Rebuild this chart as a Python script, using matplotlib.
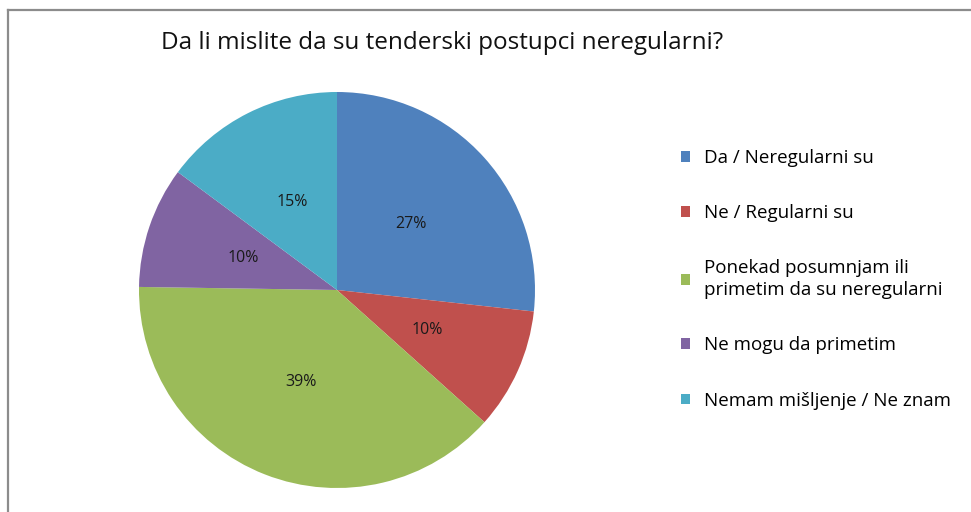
import matplotlib.pyplot as plt
from matplotlib.patches import Patch
from matplotlib.lines import Line2D

plt.rcParams['font.family'] = ['Open Sans', 'DejaVu Sans']

naslov = 'Da li mislite da su tenderski postupci neregularni?'
odgovori = ['Da / Neregularni su', 'Ne / Regularni su',
            'Ponekad posumnjam ili\nprimetim da su neregularni',
            'Ne mogu da primetim', 'Nemam mišljenje / Ne znam']
procenti = [27, 10, 39, 10, 15]
boje = ['#4F81BD', '#C0504D', '#9BBB59', '#8064A2', '#4BACC6']

W, H = 971, 512
fig = plt.figure(figsize=(W / 100, H / 100), dpi=100)

# okvir (gornja i leva ivica)
fig.add_artist(Line2D([8 / W, 1], [1 - 10 / H, 1 - 10 / H], color='#8c8c8c', lw=1.6))
fig.add_artist(Line2D([8 / W, 8 / W], [0, 1 - 10 / H], color='#8c8c8c', lw=1.6))

cx, cy, r = 337, 290, 198
ax = fig.add_axes([(cx - r) / W, (H - cy - r) / H, 2 * r / W, 2 * r / H])
ax.pie(procenti, colors=boje, startangle=90, counterclock=False,
       autopct=lambda p: '%d%%' % round(p * sum(procenti) / 100),
       pctdistance=0.5, radius=1,
       textprops={'fontsize': 11.5, 'color': '#1a1a1a'})
ax.set_xlim(-1, 1)
ax.set_ylim(-1, 1)
ax.set_aspect('auto')
ax.axis('off')

fig.text(442 / W, 1 - 43 / H, naslov, ha='center', va='center', fontsize=17.5, color='#111111')

rucke = [Patch(facecolor=b, edgecolor='none') for b in boje]
leg = fig.legend(rucke, odgovori, loc='upper left', bbox_to_anchor=(664 / W, 1 - 132 / H),
                 frameon=False, fontsize=13.5, handlelength=0.5, handleheight=0.5,
                 handletextpad=0.75, labelspacing=1.98)
for t in leg.get_texts():
    t.set_linespacing(1.3)

fig.savefig('out.png', dpi=100)
